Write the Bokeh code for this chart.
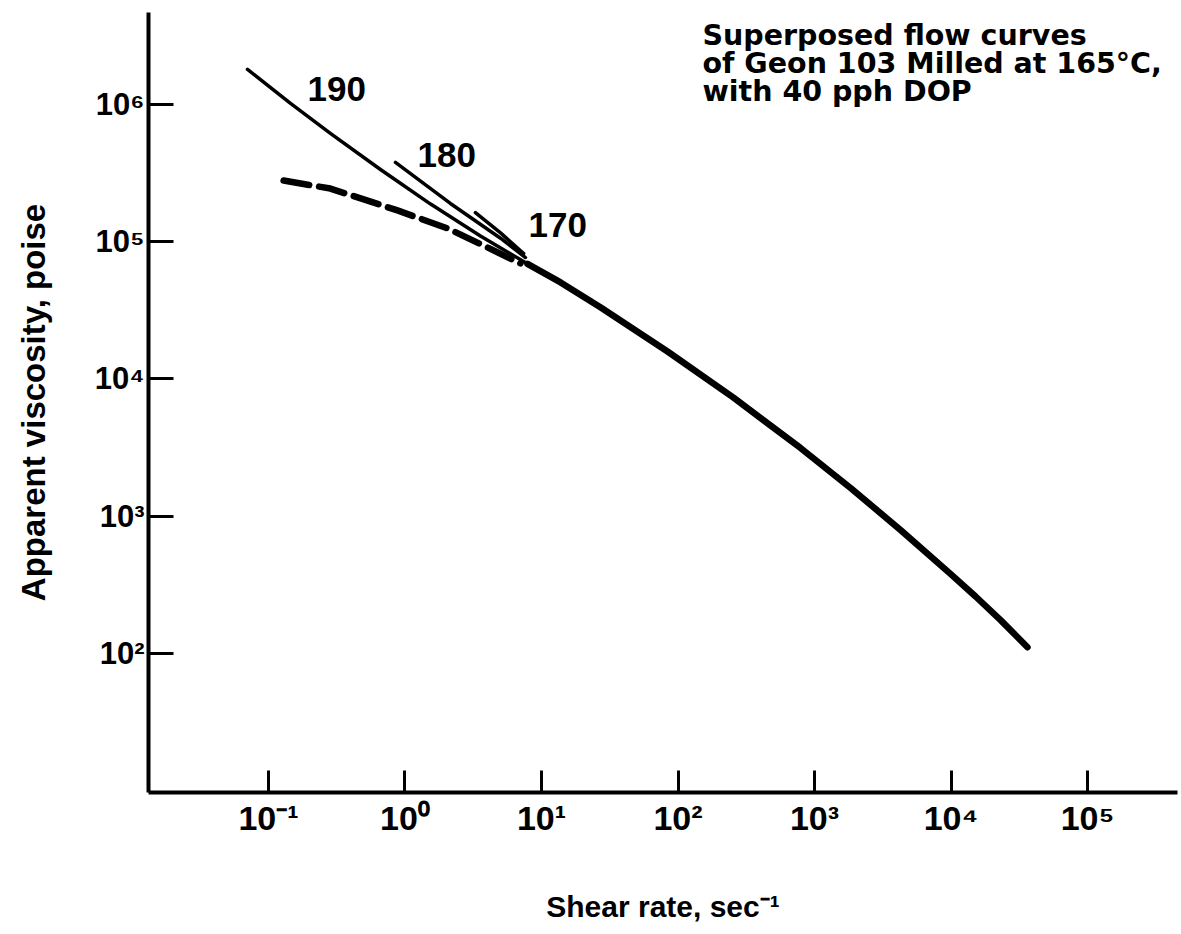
from bokeh.plotting import figure
from bokeh.models import FixedTicker, Label
from bokeh.embed import file_html
from bokeh.resources import INLINE

# ---- data ----
# 190 °C curve, continuing as the superposed master curve
shear_190 = [0.0702, 0.145, 0.284, 0.661, 1.54, 3.57, 7.89, 13.8, 27.0, 83.8, 255, 789, 1837, 4266,
             9908, 15136, 23070, 36310]
visc_190 = [1.80e6, 1.017e6, 6.15e5, 3.36e5, 1.88e5, 1.10e5, 6.90e4, 5.05e4, 3.33e4, 1.586e4, 7306,
            3143, 1606, 794, 380, 260, 175, 111]
merge_index = 6  # from here on the curves coincide (thick master curve)

shear_180 = [0.851, 2.15, 5.01, 7.63]
visc_180 = [3.78e5, 1.90e5, 1.06e5, 7.67e4]

shear_170 = [3.28, 5.01, 7.40]
visc_170 = [1.63e5, 1.16e5, 8.2e4]

shear_dashed = [0.129, 0.284, 0.881, 2.05, 4.02, 7.01]
visc_dashed = [2.79e5, 2.44e5, 1.69e5, 1.25e5, 9.08e4, 6.95e4]

x_tick_values = [0.1, 1, 10, 100, 1e3, 1e4, 1e5]
x_tick_labels = ["10⁻¹", "10⁰", "10¹", "10²", "10³", "10⁴", "10⁵"]
y_tick_values = [1e2, 1e3, 1e4, 1e5, 1e6]
y_tick_labels = ["10²", "10³", "10⁴", "10⁵", "10⁶"]

curve_names = ["190", "180", "170"]
note_lines = ["Superposed flow curves", "of Geon 103 Milled at 165°C,", "with 40 pph DOP"]

FONT = "Liberation Sans"

p = figure(width=1181, height=934,
           x_axis_type="log", y_axis_type="log",
           x_range=(10 ** -1.879, 10 ** 5.659),
           y_range=(10 ** 0.987, 10 ** 6.670),
           output_backend="svg", toolbar_location=None,
           min_border_left=148, min_border_right=4,
           min_border_top=12, min_border_bottom=142)
p.outline_line_color = None
p.xgrid.visible = False
p.ygrid.visible = False
p.background_fill_color = "white"
p.border_fill_color = "white"

# axes
for ax in (p.xaxis[0], p.yaxis[0]):
    ax.axis_line_width = 4
    ax.axis_line_color = "black"
    ax.major_tick_line_width = 3
    ax.major_tick_line_color = "black"
    ax.major_tick_out = 0
    ax.minor_tick_line_color = None
    ax.major_label_text_font = FONT
    ax.major_label_text_font_style = "bold"
    ax.major_label_text_color = "black"
    ax.axis_label_text_font = FONT
    ax.axis_label_text_font_style = "bold"
    ax.axis_label_text_color = "black"

xa = p.xaxis[0]
xa.ticker = FixedTicker(ticks=x_tick_values)
xa.major_label_overrides = dict(zip(x_tick_values, x_tick_labels))
xa.major_tick_in = 22
xa.major_label_text_font_size = "34px"
xa.major_label_standoff = 6
xa.axis_label = "Shear rate, sec⁻¹"
xa.axis_label_text_font_size = "30px"
xa.axis_label_standoff = 50

ya = p.yaxis[0]
ya.ticker = FixedTicker(ticks=y_tick_values)
ya.major_label_overrides = dict(zip(y_tick_values, y_tick_labels))
ya.major_tick_in = 25
ya.major_label_text_font_size = "31px"
ya.major_label_standoff = 4
ya.axis_label = "Apparent viscosity, poise"
ya.axis_label_text_font_size = "33px"
ya.axis_label_standoff = 40

# curves
p.line(shear_190, visc_190, line_color="black", line_width=3.5, line_cap="round", line_join="round")
p.line(shear_190[merge_index:], visc_190[merge_index:], line_color="black", line_width=6.5,
       line_cap="round", line_join="round")
p.line(shear_180, visc_180, line_color="black", line_width=3.5, line_cap="round", line_join="round")
p.line(shear_170, visc_170, line_color="black", line_width=3.5, line_cap="round", line_join="round")
p.line(shear_dashed, visc_dashed, line_color="black", line_width=6.5, line_dash="26 10",
       line_cap="round", line_join="round")

# curve labels (temperatures)
label_pos = [(0.193, 1.035e6), (1.236, 3.42e5), (8.03, 1.057e5)]
for name, (lx, ly) in zip(curve_names, label_pos):
    p.add_layout(Label(x=lx, y=ly, y_offset=13, text=name, text_font=FONT, text_font_style="bold",
                       text_font_size="35px", text_color="black",
                       text_align="left", text_baseline="alphabetic"))

# note in the upper right
for i, line in enumerate(note_lines):
    p.add_layout(Label(x=151, y=2.69e6, y_offset=10 - 28 * i, text=line,
                       text_font="DejaVu Sans", text_font_style="bold",
                       text_font_size="28.5px", text_color="black",
                       text_align="left", text_baseline="alphabetic"))

open("out.html", "w").write(file_html(p, INLINE))
